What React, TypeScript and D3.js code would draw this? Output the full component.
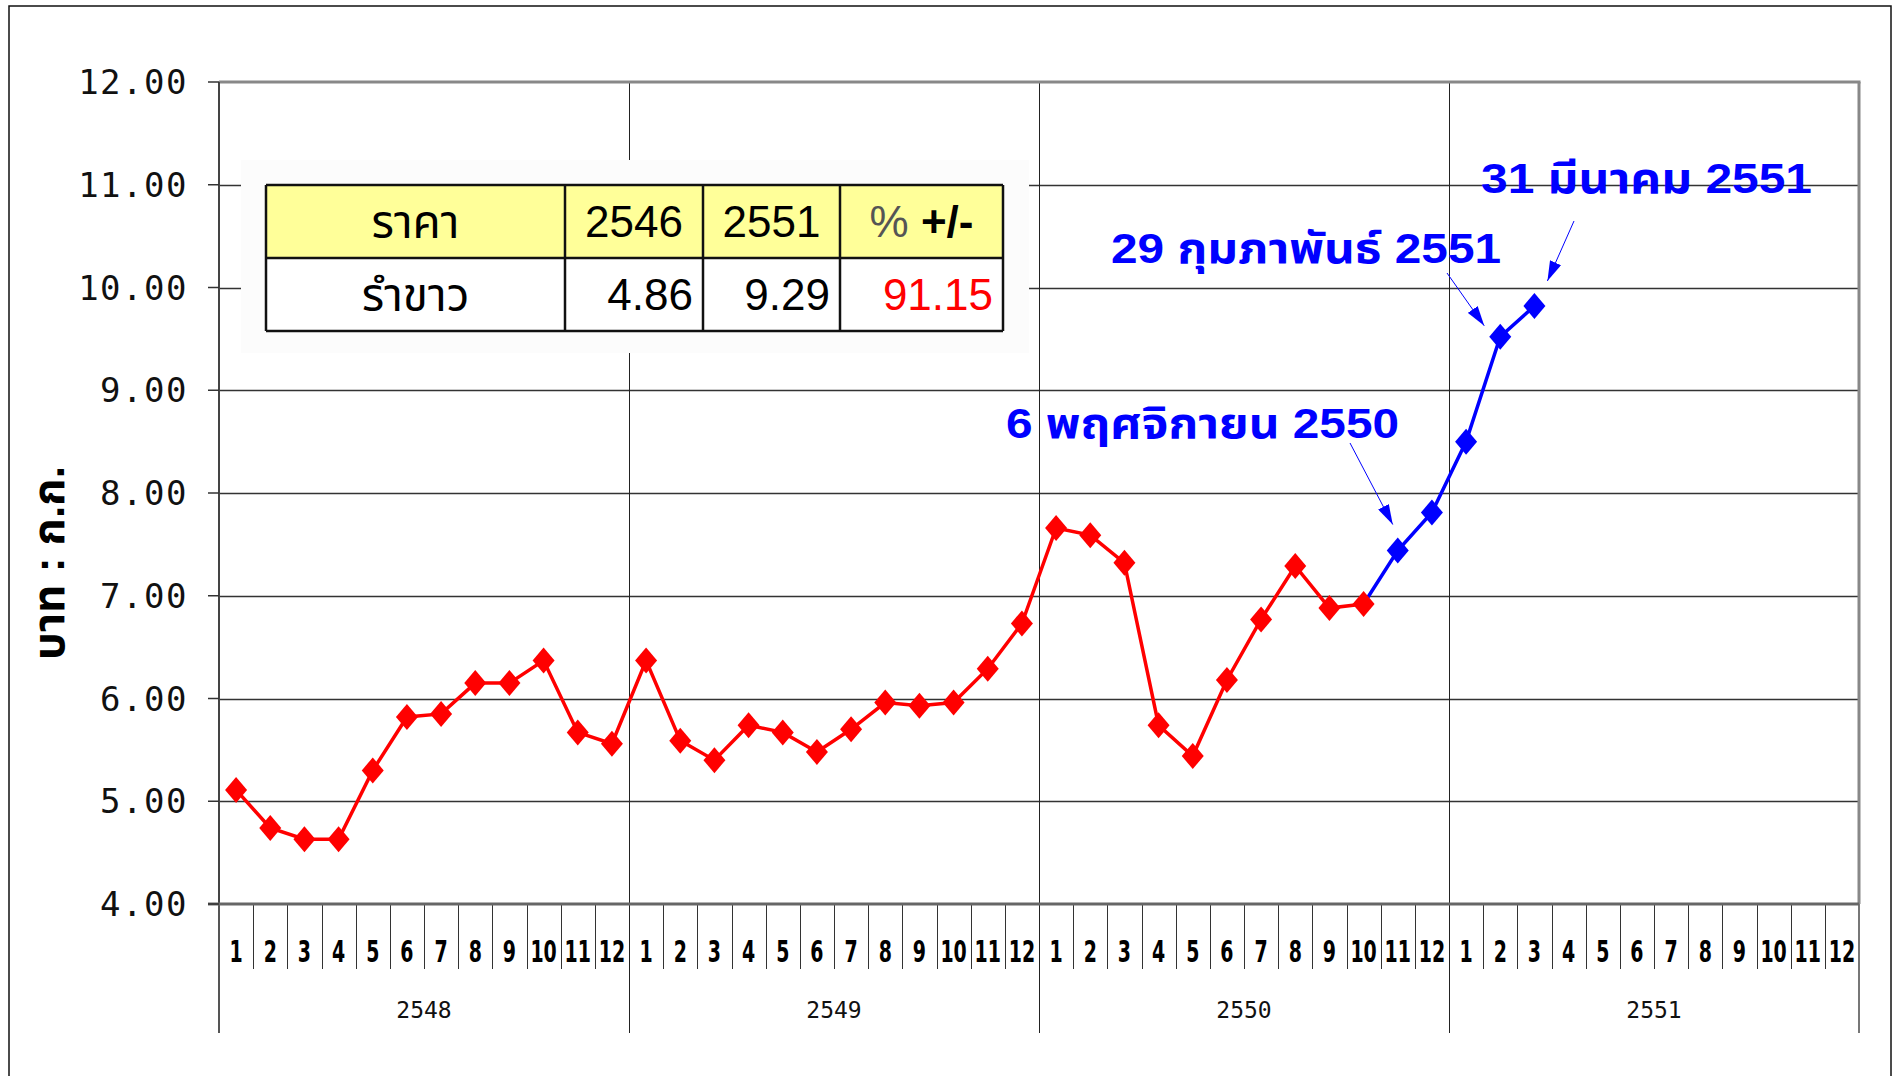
import React from 'react'
import * as d3 from 'd3'

// ราคารำขาว (บาท/ก.ก.) รายเดือน 2548 - 2551
const years = ['2548', '2549', '2550', '2551']
const months = ['1', '2', '3', '4', '5', '6', '7', '8', '9', '10', '11', '12']
const yTicks = [4, 5, 6, 7, 8, 9, 10, 11, 12]

const price2548 = [5.11, 4.74, 4.63, 4.63, 5.3, 5.82, 5.85, 6.15, 6.15, 6.37, 5.67, 5.56]
const price2549 = [6.37, 5.59, 5.4, 5.74, 5.67, 5.48, 5.7, 5.96, 5.93, 5.96, 6.29, 6.73]
const price2550 = [7.66, 7.59, 7.32, 5.74, 5.44, 6.18, 6.77, 7.29, 6.88, 6.92, 7.44, 7.81]
const price2551 = [8.5, 9.52, 9.82]

// last month drawn red (2550 / 10), after it the line turns blue
const lastRed = 12 + 12 + 9

const tableHead = ['ราคา', '2546', '2551', '% +/-']
const tableRow = ['รำขาว', '4.86', '9.29', '91.15']

const notes = [
  { text: '6 พฤศจิกายน 2550', idx: 34 },
  { text: '29 กุมภาพันธ์ 2551', idx: 37 },
  { text: '31 มีนาคม 2551', idx: 38 },
]
// where each note's text sits and where its arrow starts / stops (px offsets from the point)
const noteLayout = [
  { x: 1006, y: 438, w: 393, from: [1350, 443], to: [-5, -26] },
  { x: 1111, y: 263, w: 390, from: [1447, 273], to: [-16, -11] },
  { x: 1481, y: 193, w: 331, from: [1574, 221], to: [13, -25] },
]

const W = 1894
const H = 1076
const plot = { left: 219, right: 1859, top: 82, bottom: 904 }

const monoFont = '"DejaVu Sans Mono", "Liberation Mono", monospace'
const thaiFont = '"Liberation Sans", Arial, "Noto Sans Thai", Loma, Garuda, sans-serif'

function diamond(cx: number, cy: number) {
  const hw = 11
  const hh = 13
  return `M${cx},${cy - hh}L${cx + hw},${cy}L${cx},${cy + hh}L${cx - hw},${cy}Z`
}

export default function App() {
  const all = [...price2548, ...price2549, ...price2550, ...price2551].map((v, i) => ({ i, v }))
  const nMonths = years.length * months.length

  const x = d3.scaleLinear().domain([0, nMonths]).range([plot.left, plot.right])
  const y = d3.scaleLinear().domain([4, 12]).range([plot.bottom, plot.top])
  const cx = (i: number) => x(i + 0.5)

  const lineGen = d3
    .line<{ i: number; v: number }>()
    .x((d) => cx(d.i))
    .y((d) => y(d.v))

  const red = all.slice(0, lastRed + 1)
  const blue = all.slice(lastRed)

  // table geometry
  const tCols = [266, 565, 703, 840, 1003]
  const tRows = [185, 258, 331]

  return (
    <svg
      width={W}
      height={H}
      style={{ position: 'absolute', left: 0, top: 0, background: '#fff' }}
    >
      <defs>
        <marker
          id="arrowHead"
          viewBox="0 0 20 12"
          refX="20"
          refY="6"
          markerWidth="20"
          markerHeight="12"
          markerUnits="userSpaceOnUse"
          orient="auto"
        >
          <path d="M0,0L20,6L0,12Z" fill="#0000ff" />
        </marker>
      </defs>

      {/* outer frame */}
      <rect x={9} y={6} width={1882} height={1090} fill="none" stroke="#111" strokeWidth={1.5} />

      {/* horizontal gridlines */}
      <g>
        {yTicks.slice(1, -1).map((t) => (
          <line
            key={t}
            x1={plot.left}
            x2={plot.right}
            y1={Math.round(y(t)) + 0.5}
            y2={Math.round(y(t)) + 0.5}
            stroke="#333"
            strokeWidth={1.3}
          />
        ))}
      </g>

      {/* year lines, through plot and down into the axis */}
      <g>
        {years.slice(1).map((yr, k) => (
          <line
            key={yr}
            x1={Math.round(x((k + 1) * 12)) + 0.5}
            x2={Math.round(x((k + 1) * 12)) + 0.5}
            y1={plot.top}
            y2={1033}
            stroke="#222"
            strokeWidth={1}
          />
        ))}
        <line x1={plot.left} x2={plot.left} y1={plot.bottom} y2={1033} stroke="#555" strokeWidth={2} />
        <line x1={plot.right} x2={plot.right} y1={plot.bottom} y2={1033} stroke="#777" strokeWidth={2} />
      </g>

      {/* month ticks under axis */}
      <g>
        {d3.range(1, nMonths).filter((i) => i % 12 !== 0).map((i) => (
          <line
            key={i}
            x1={Math.round(x(i)) + 0.5}
            x2={Math.round(x(i)) + 0.5}
            y1={plot.bottom}
            y2={969}
            stroke="#333"
            strokeWidth={1}
          />
        ))}
      </g>

      {/* table backdrop hides gridlines */}
      <rect x={241} y={160} width={788} height={193} fill="#fcfcfc" />

      {/* table */}
      <g>
        <rect x={tCols[0]} y={tRows[0]} width={tCols[4] - tCols[0]} height={tRows[1] - tRows[0]} fill="#ffff99" />
        <rect x={tCols[0]} y={tRows[1]} width={tCols[4] - tCols[0]} height={tRows[2] - tRows[1]} fill="#fff" />
        {tCols.map((c, k) => (
          <line key={k} x1={c} x2={c} y1={tRows[0]} y2={tRows[2]} stroke="#111" strokeWidth={2.5} />
        ))}
        {tRows.map((r, k) => (
          <line key={k} x1={tCols[0]} x2={tCols[4]} y1={r} y2={r} stroke="#111" strokeWidth={2.5} />
        ))}
        {tableHead.map((h, k) => (
          <text
            key={h}
            x={(tCols[k] + tCols[k + 1]) / 2}
            y={(tRows[0] + tRows[1]) / 2}
            dy="0.36em"
            textAnchor="middle"
            fontFamily={thaiFont}
            fontSize={k === 0 ? 46 : 44}
            fill="#000"
          >
            {k === 3 ? (
              <>
                <tspan fill="#555">% </tspan>
                <tspan fontWeight="bold">+/-</tspan>
              </>
            ) : (
              h
            )}
          </text>
        ))}
        {tableRow.map((v, k) => (
          <text
            key={k}
            x={k === 0 ? (tCols[0] + tCols[1]) / 2 : tCols[k + 1] - 10}
            y={(tRows[1] + tRows[2]) / 2}
            dy="0.36em"
            textAnchor={k === 0 ? 'middle' : 'end'}
            fontFamily={thaiFont}
            fontSize={k === 0 ? 46 : 44}
            fill={k === 3 ? '#ff0000' : '#000'}
          >
            {v}
          </text>
        ))}
      </g>

      {/* plot frame */}
      <line x1={plot.left} x2={plot.right + 1.5} y1={plot.top} y2={plot.top} stroke="#888" strokeWidth={3} />
      <line x1={plot.right} x2={plot.right} y1={plot.top} y2={plot.bottom} stroke="#888" strokeWidth={3} />
      <line x1={plot.left} x2={plot.left} y1={plot.top} y2={plot.bottom} stroke="#444" strokeWidth={2} />
      <line x1={plot.left - 11} x2={plot.right} y1={plot.bottom} y2={plot.bottom} stroke="#666" strokeWidth={3} />

      {/* y axis ticks + labels */}
      <g>
        {yTicks.map((t) => (
          <g key={t}>
            <line x1={plot.left - 11} x2={plot.left} y1={y(t)} y2={y(t)} stroke="#333" strokeWidth={1.5} />
            <text
              x={188}
              y={y(t)}
              dy="0.36em"
              textAnchor="end"
              fontFamily={monoFont}
              fontSize={34}
              letterSpacing={1.5}
              fill="#111"
            >
              {t.toFixed(2)}
            </text>
          </g>
        ))}
      </g>

      <text
        transform={`translate(64, 563) rotate(-90)`}
        textAnchor="middle"
        fontFamily={thaiFont}
        fontWeight="bold"
        fontSize={44}
        fill="#000"
      >
        บาท : ก.ก.
      </text>

      {/* month + year labels */}
      <g>
        {d3.range(nMonths).map((i) => (
          <text
            key={i}
            transform={`translate(${cx(i)}, 951) scale(0.68, 1)`}
            dy="0.36em"
            textAnchor="middle"
            fontFamily='"DejaVu Sans Condensed", "DejaVu Sans", sans-serif'
            fontWeight="bold"
            fontSize={31}
            fill="#000"
          >
            {months[i % 12]}
          </text>
        ))}
        {years.map((yr, k) => (
          <text
            key={yr}
            x={x(k * 12 + 6)}
            y={1010}
            dy="0.36em"
            textAnchor="middle"
            fontFamily={monoFont}
            fontSize={23}
            fill="#111"
          >
            {yr}
          </text>
        ))}
      </g>

      {/* series */}
      <path d={lineGen(blue) || ''} fill="none" stroke="#0000ff" strokeWidth={3.5} />
      <path d={lineGen(red) || ''} fill="none" stroke="#ff0000" strokeWidth={3.5} />
      {red.map((d) => (
        <path key={d.i} d={diamond(cx(d.i), y(d.v))} fill="#ff0000" />
      ))}
      {blue.slice(1).map((d) => (
        <path key={d.i} d={diamond(cx(d.i), y(d.v))} fill="#0000ff" />
      ))}

      {/* notes */}
      {notes.map((n, k) => {
        const L = noteLayout[k]
        const p = all[n.idx]
        return (
          <g key={n.text}>
            <text
              x={L.x}
              y={L.y}
              textLength={L.w}
              lengthAdjust="spacingAndGlyphs"
              fontFamily={thaiFont}
              fontWeight="bold"
              fontSize={42}
              fill="#0000ff"
            >
              {n.text}
            </text>
            <line
              x1={L.from[0]}
              y1={L.from[1]}
              x2={cx(p.i) + L.to[0]}
              y2={y(p.v) + L.to[1]}
              stroke="#0000ff"
              strokeWidth={1}
              markerEnd="url(#arrowHead)"
            />
          </g>
        )
      })}
    </svg>
  )
}
